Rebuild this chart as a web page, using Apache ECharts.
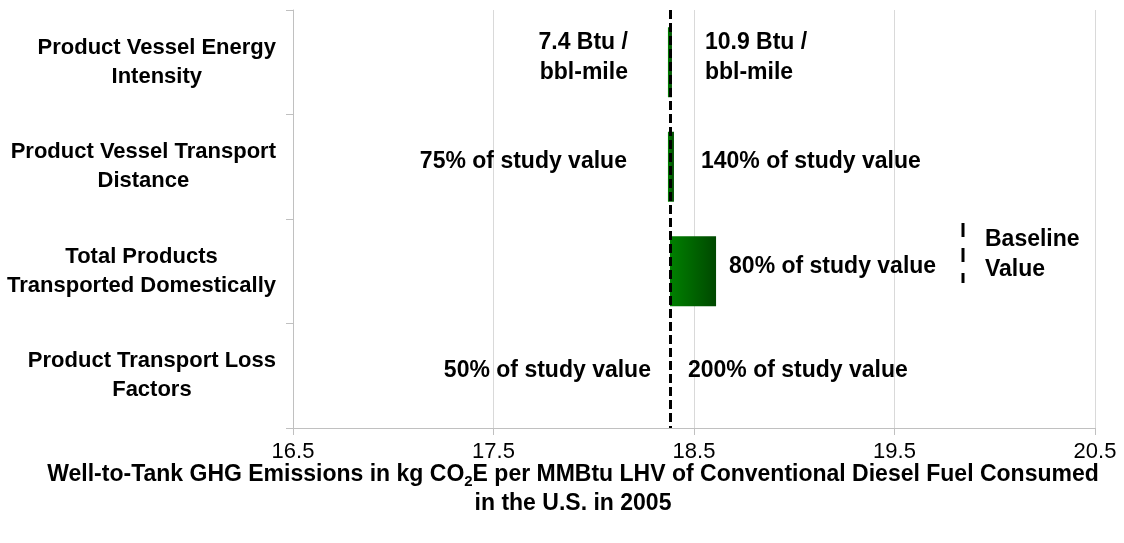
<!DOCTYPE html>
<html>
<head>
<meta charset="utf-8">
<script src="https://cdn.jsdelivr.net/npm/echarts@6/dist/echarts.min.js"></script>
<style>
  html, body { margin: 0; padding: 0; background: #fff; }
  #tornado { width: 1124px; height: 543px; }
</style>
</head>
<body>
<div id="tornado"></div>
<script>
  var categories = ['Product Vessel Energy\nIntensity', 'Product Vessel Transport\nDistance', 'Total Products\nTransported Domestically', 'Product Transport Loss\nFactors'];
  var baselineValue = 18.38;
  var lowValues = [18.37, 18.37, 18.38, 18.38];
  var highValues = [18.39, 18.40, 18.61, 18.38];
  var lowLabels = ['7.4 Btu /\nbbl-mile', '75% of study value', '', '50% of study value'];
  var highLabels = ['10.9 Btu /\nbbl-mile', '140% of study value', '80% of study value', '200% of study value'];
  var xMin = 16.5, xMax = 20.5, xStep = 1;

  var font = 'Liberation Sans, Arial, sans-serif';
  // gap between label and its bar end, per row
  var lowGap = [40, 41, 0, 19];
  var highGap = [33, 27, 13, 18];

  var chart = echarts.init(document.getElementById('tornado'));

  var baseData = [], spanData = [], lowPts = [], highPts = [];
  for (var i = 0; i < categories.length; i++) {
    baseData.push(Math.min(lowValues[i], highValues[i]));
    spanData.push(Math.abs(highValues[i] - lowValues[i]));
    if (lowLabels[i]) {
      lowPts.push({ value: [lowValues[i], i], name: lowLabels[i], label: { distance: lowGap[i] } });
    }
    if (highLabels[i]) {
      highPts.push({ value: [highValues[i], i], name: highLabels[i], label: { distance: highGap[i] } });
    }
  }

  var labelStyle = {
    show: true,
    fontFamily: font,
    fontWeight: 'bold',
    fontSize: 23,
    lineHeight: 30,
    color: '#000',
    opacity: 1,
    textBorderWidth: 0,
    offset: [0, -5],
    formatter: function (p) { return p.name; }
  };

  chart.setOption({
    animation: false,
    grid: { left: 293, right: 29, top: 10, bottom: 115 },
    xAxis: {
      type: 'value',
      min: xMin,
      max: xMax,
      interval: xStep,
      axisLine: { show: true, lineStyle: { color: '#c0c0c0', width: 1 } },
      axisTick: { show: true, length: 7, lineStyle: { color: '#c0c0c0' } },
      splitLine: { show: true, lineStyle: { color: '#d9d9d9', width: 1 } },
      axisLabel: {
        fontFamily: font, fontSize: 22, color: '#000', margin: 13,
        formatter: function (v) { return v.toFixed(1); }
      }
    },
    yAxis: {
      type: 'category',
      inverse: true,
      data: categories,
      axisLine: { show: true, lineStyle: { color: '#c0c0c0', width: 1 } },
      axisTick: { show: true, length: 7, lineStyle: { color: '#c0c0c0' } },
      axisLabel: {
        margin: 17,
        align: 'right',
        formatter: function (v) {
          return v.split('\n').map(function (s) { return '{c|' + s + '}'; }).join('\n');
        },
        rich: {
          c: { align: 'center', fontFamily: font, fontWeight: 'bold', fontSize: 22, lineHeight: 29, color: '#000' }
        }
      }
    },
    series: [
      {
        type: 'bar',
        stack: 'tornado',
        barWidth: 70,
        silent: true,
        itemStyle: { color: 'transparent' },
        data: baseData
      },
      {
        type: 'bar',
        stack: 'tornado',
        barWidth: 70,
        itemStyle: {
          color: new echarts.graphic.LinearGradient(0, 0, 1, 0, [
            { offset: 0, color: '#008000' },
            { offset: 1, color: '#004800' }
          ])
        },
        data: spanData,
        markLine: {
          silent: true,
          symbol: 'none',
          label: { show: false },
          lineStyle: { color: '#000', width: 3, type: [9, 4] },
          data: [{ xAxis: baselineValue }]
        }
      },
      {
        type: 'scatter',
        symbolSize: 0,
        silent: true,
        itemStyle: { opacity: 1 },
        label: Object.assign({}, labelStyle, { position: 'left', align: 'right' }),
        data: lowPts
      },
      {
        type: 'scatter',
        symbolSize: 0,
        silent: true,
        itemStyle: { opacity: 1 },
        label: Object.assign({}, labelStyle, { position: 'right', align: 'left' }),
        data: highPts
      }
    ],
    graphic: [
      {
        type: 'line',
        shape: { x1: 963, y1: 223, x2: 963, y2: 283 },
        style: { stroke: '#000', lineWidth: 3, lineDash: [14, 11] }
      },
      {
        type: 'text',
        left: 985,
        top: 225,
        style: { text: 'Baseline\nValue', font: 'bold 23px Liberation Sans', lineHeight: 30, fill: '#000' }
      },
      {
        type: 'text',
        x: 573,
        y: 460,
        style: {
          text: '{b|Well-to-Tank GHG Emissions in kg CO}{s|2}{b|E per MMBtu LHV of Conventional Diesel Fuel Consumed}\n{b|in the U.S. in 2005}',
          align: 'center',
          verticalAlign: 'top',
          rich: {
            b: { fontFamily: font, fontWeight: 'bold', fontSize: 23, lineHeight: 29, fill: '#000' },
            s: { fontFamily: font, fontWeight: 'bold', fontSize: 15, lineHeight: 20, verticalAlign: 'bottom', fill: '#000' }
          }
        }
      }
    ]
  });
</script>
</body>
</html>
